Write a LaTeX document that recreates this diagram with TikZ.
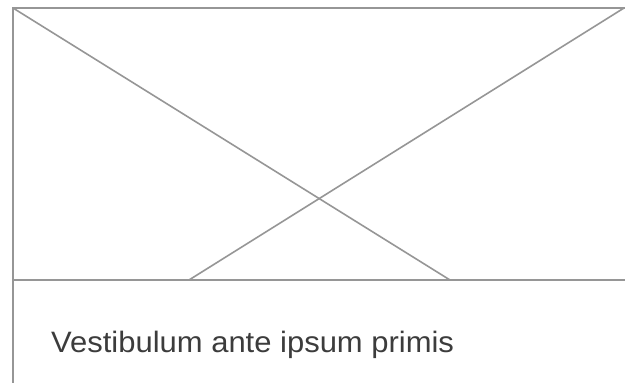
\documentclass[tikz,border=0pt]{standalone}
\usepackage{fontspec}
\setmainfont{Liberation Sans}
\definecolor{linegray}{RGB}{150,150,150}
\definecolor{textgray}{RGB}{60,60,60}
\tikzset{wire/.style={draw=linegray,line width=1.6pt}}
\begin{document}
\begin{tikzpicture}[x=1pt,y=-1pt]
\useasboundingbox (0,0) rectangle (625,383);
\coordinate (tl) at (13,8);
\coordinate (tr) at (625,8);
\coordinate (tre) at (624,8);
\coordinate (ml) at (13,280);
\coordinate (mr) at (625,280);
\coordinate (bl) at (13,383);
\coordinate (xa) at (450,280);
\coordinate (xb) at (189,280);
\draw[wire] (tr) -- (tl) -- (bl);
\draw[wire] (ml) -- (mr);
\draw[wire] (tl) -- (xa);
\draw[wire] (tre) -- (xb);
\node[anchor=base west,inner sep=0pt,text=textgray,font=\fontsize{29.5}{34}\selectfont,xscale=1.05] (cap) at (51,352) {Vestibulum ante ipsum primis};
\end{tikzpicture}
\end{document}
